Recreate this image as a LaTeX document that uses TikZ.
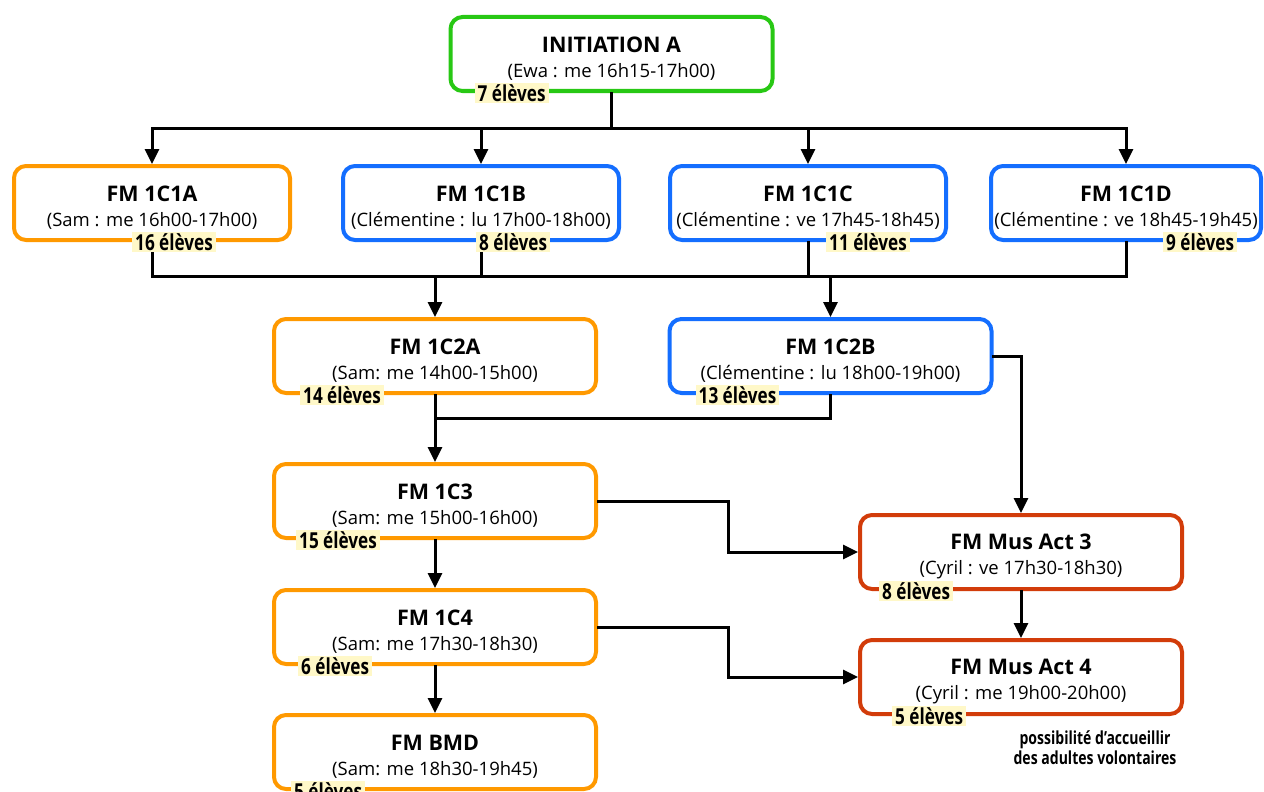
\documentclass[tikz,border=0pt]{standalone}
\usepackage{fontspec}
\setmainfont{Open Sans}
\newfontfamily\tagfont[FakeStretch=0.78]{Open Sans}
\usetikzlibrary{arrows.meta,positioning}

\definecolor{initgreen}{RGB}{40,200,20}
\definecolor{samorange}{RGB}{255,153,0}
\definecolor{clemblue}{RGB}{20,110,255}
\definecolor{cyrilred}{RGB}{210,60,10}
\definecolor{tagyellow}{RGB}{255,248,200}

\newcommand\coursetext[2]{{\fontsize{21.5}{25}\selectfont\bfseries\rule{0pt}{25pt}#1}\\{#2}}

\tikzset{
  course/.style={draw=#1, line width=4pt, rounded corners=12pt, fill=white,
    minimum width=276pt, minimum height=74pt, align=center, inner sep=0pt,
    font=\fontsize{18.5}{25}\selectfont},
  widecourse/.style={course=#1, minimum width=322pt},
  count/.style={fill=tagyellow, anchor=west, inner xsep=3pt, inner ysep=1pt,
    font=\tagfont\bfseries\fontsize{22}{22}\selectfont},
  busline/.style={line width=3pt, line cap=rect},
  link/.style={busline, -{Triangle[width=14pt,length=15pt]}}
}

\begin{document}
\begin{tikzpicture}[x=1pt,y=-1pt]
\useasboundingbox (0,0) rectangle (1264,792);

% courses
\node[widecourse=initgreen] (init) at (611.5,54) {\coursetext{INITIATION A}{(Ewa : me 16h15-17h00)}};

\node[course=samorange] (c1a) at (152,203) {\coursetext{FM 1C1A}{(Sam : me 16h00-17h00)}};
\node[course=clemblue] (c1b) at (481,203) {\coursetext{FM 1C1B}{(Clémentine : lu 17h00-18h00)}};
\node[course=clemblue] (c1c) at (808,203) {\coursetext{FM 1C1C}{(Clémentine : ve 17h45-18h45)}};
\node[course=clemblue, minimum width=270pt] (c1d) at (1126,203) {\coursetext{FM 1C1D}{(Clémentine : ve 18h45-19h45)}};

\node[widecourse=samorange] (c2a) at (435,356) {\coursetext{FM 1C2A}{(Sam: me 14h00-15h00)}};
\node[widecourse=clemblue] (c2b) at (830.5,356) {\coursetext{FM 1C2B}{(Clémentine : lu 18h00-19h00)}};

\node[widecourse=samorange] (c3) at (435,501) {\coursetext{FM 1C3}{(Sam: me 15h00-16h00)}};
\node[widecourse=samorange] (c4) at (435,627) {\coursetext{FM 1C4}{(Sam: me 17h30-18h30)}};
\node[widecourse=samorange] (bmd) at (435,752) {\coursetext{FM BMD}{(Sam: me 18h30-19h45)}};

\node[widecourse=cyrilred] (mus3) at (1021,552) {\coursetext{FM Mus Act 3}{(Cyril : ve 17h30-18h30)}};
\node[widecourse=cyrilred] (mus4) at (1021,677) {\coursetext{FM Mus Act 4}{(Cyril : me 19h00-20h00)}};

\node[align=center, font=\tagfont\bfseries\fontsize{18}{20}\selectfont] (note) at (1095,748)
  {possibilité d’accueillir\\des adultes volontaires};

% connectors
\coordinate (bus1) at (611.5,128);
\coordinate (bus2) at (611.5,276);
\coordinate (bus3) at (611.5,418);

\draw[busline] (init) -- (bus1);
\draw[busline] (c1a |- bus1) -- (c1d |- bus1);
\foreach \n in {c1a,c1b,c1c,c1d}
  \draw[link] (\n |- bus1) -- (\n);

\foreach \n in {c1a,c1b,c1c,c1d}
  \draw[busline] (\n) -- (\n |- bus2);
\draw[busline] (c1a |- bus2) -- (c1d |- bus2);
\draw[link] (c2a |- bus2) -- (c2a);
\draw[link] (c2b |- bus2) -- (c2b);

\draw[busline] (c2b) -- (c2b |- bus3) -- (c2a |- bus3);
\draw[link] (c2a) -- (c3);
\draw[link] (c2b.east) -| (mus3);

\draw[link] (c3) -- (c4);
\draw[link] (c4) -- (bmd);
\draw[link] (c3.east) -- ++(130,0) |- (mus3);
\draw[link] (c4.east) -- ++(130,0) |- (mus4);
\draw[link] (mus3) -- (mus4);

% pupil counts
\node[count, right=26pt of init.south west] (ninit) {7 élèves};
\node[count, right=120pt of c1a.south west] (nc1a) {16 élèves};
\node[count, right=135pt of c1b.south west] (nc1b) {8 élèves};
\node[count, right=158pt of c1c.south west] (nc1c) {11 élèves};
\node[count, right=174pt of c1d.south west] (nc1d) {9 élèves};
\node[count, right=28pt of c2a.south west] (nc2a) {14 élèves};
\node[count, right=28pt of c2b.south west] (nc2b) {13 élèves};
\node[count, right=24pt of c3.south west] (nc3) {15 élèves};
\node[count, right=26pt of c4.south west] (nc4) {6 élèves};
\node[count, right=19pt of bmd.south west] (nbmd) {5 élèves};
\node[count, right=21pt of mus3.south west] (nmus3) {8 élèves};
\node[count, right=34pt of mus4.south west] (nmus4) {5 élèves};
\end{tikzpicture}
\end{document}
